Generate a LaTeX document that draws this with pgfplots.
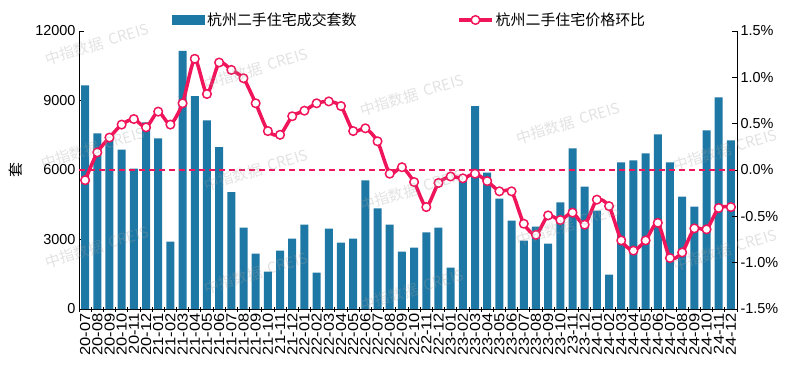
\documentclass[border=0pt]{standalone}
\usepackage{fontspec}
\setmainfont{Liberation Sans}
\newfontfamily\cjk{Noto Sans CJK SC}
\newfontfamily\xlab{Liberation Sans}[FakeStretch=1.14]
\usepackage{pgfplots}
\pgfplotsset{compat=1.18}
\usepackage{pgfplotstable}
\definecolor{barblue}{HTML}{1E78A5}
\definecolor{linepink}{HTML}{F0145A}
\definecolor{wm}{HTML}{A0A0A0}

\pgfplotstableread{
idx bar pct
0 9650 -0.11
1 7580 0.19
2 7510 0.35
3 6880 0.49
4 6060 0.55
5 8060 0.46
6 7370 0.63
7 2910 0.49
8 11140 0.72
9 9190 1.20
10 8140 0.82
11 6990 1.16
12 5040 1.08
13 3510 0.99
14 2390 0.72
15 1610 0.42
16 2520 0.38
17 3040 0.58
18 3640 0.64
19 1570 0.72
20 3470 0.74
21 2860 0.69
22 3040 0.42
23 5550 0.45
24 4345 0.31
25 3640 -0.04
26 2475 0.03
27 2650 -0.13
28 3310 -0.40
29 3510 -0.14
30 1785 -0.07
31 5570 -0.09
32 8760 -0.04
33 5885 -0.12
34 4760 -0.23
35 3810 -0.23
36 2950 -0.58
37 3555 -0.70
38 2820 -0.49
39 4600 -0.54
40 6935 -0.46
41 5280 -0.59
42 4245 -0.32
43 1480 -0.39
44 6330 -0.76
45 6415 -0.87
46 6720 -0.76
47 7540 -0.57
48 6330 -0.95
49 4850 -0.89
50 4415 -0.63
51 7710 -0.64
52 9140 -0.41
53 7280 -0.40
}\datatable

\pgfplotsset{
  myfont/.style={font=\fontsize{14.5}{17}\selectfont},
}

\begin{document}
\begin{tikzpicture}
\useasboundingbox (-79bp,-60bp) rectangle (721bp,309bp);
\begin{axis}[
  scale only axis, width=658bp, height=278bp,
  at={(0,0)}, anchor=south west,
  xmin=-0.5, xmax=53.5, ymin=0, ymax=12000,
  axis x line*=bottom, axis y line*=left,
  axis line style={black, line width=0.8bp, -},
  ytick={0,3000,6000,9000,12000},
  scaled y ticks=false,
  /pgf/number format/assume math mode=true,
  /pgf/number format/1000 sep={},
  yticklabel style={myfont, black},
  ytick align=inside,
  major tick length=5bp,
  minor tick length=5bp,
  ytick style={black, line width=0.8bp},
  xtick={0,...,53},
  xticklabels={20-07,20-08,20-09,20-10,20-11,20-12,
    21-01,21-02,21-03,21-04,21-05,21-06,21-07,21-08,21-09,21-10,21-11,21-12,
    22-01,22-02,22-03,22-04,22-05,22-06,22-07,22-08,22-09,22-10,22-11,22-12,
    23-01,23-02,23-03,23-04,23-05,23-06,23-07,23-08,23-09,23-10,23-11,23-12,
    24-01,24-02,24-03,24-04,24-05,24-06,24-07,24-08,24-09,24-10,24-11,24-12},
  xticklabel style={rotate=90, anchor=east, font=\xlab\fontsize{14.5}{17}\selectfont, black, inner xsep=1.5bp, inner ysep=0.3bp, text depth=0pt},
  major x tick style={draw=none},
  minor xtick={-0.5,0.5,...,53.5},
  minor x tick style={draw=black, line width=0.8bp},
  xtick align=center,
  ylabel={\cjk 套},
  ylabel style={at={(axis description cs:-0.0957,0.5)}, anchor=center, font=\fontsize{15}{18}\selectfont},
  legend style={at={(0.1413,1.0396)}, anchor=west, draw=none, fill=none,
    font=\cjk\fontsize{15}{18}\selectfont, inner sep=0pt},
  legend image code/.code={\fill[barblue] (0bp,-5bp) rectangle (33bp,5bp);},
  clip=false,
]
\addplot[ybar, bar width=8bp, fill=barblue, draw=none] table[x=idx,y=bar]{\datatable};
\addlegendentry{杭州二手住宅成交套数}
\end{axis}
\begin{axis}[
  scale only axis, width=658bp, height=278bp,
  at={(0,0)}, anchor=south west,
  xmin=-0.5, xmax=53.5, ymin=-1.5, ymax=1.5,
  axis x line=none, xtick=\empty,
  axis y line*=right,
  axis line style={black, line width=0.8bp, -},
  ytick={-1.5,-1,-0.5,0,0.5,1,1.5},
  /pgf/number format/assume math mode=true,
  yticklabel={\pgfmathprintnumber[fixed,fixed zerofill,precision=1]{\tick}\%},
  yticklabel style={myfont, black},
  ytick align=inside,
  major tick length=5bp,
  ytick style={black, line width=0.8bp},
  legend style={at={(0.5745,1.0396)}, anchor=west, draw=none, fill=none,
    font=\cjk\fontsize{15}{18}\selectfont, inner sep=0pt},
  legend image code/.code={\draw[linepink, line width=3.5bp] (0bp,0bp) -- (33bp,0bp);
    \draw[linepink, line width=1.5bp, fill=white] (16.5bp,0bp) circle (4.3bp);},
  clip=false,
]
\addplot[draw=linepink, line width=1.2bp, dash pattern=on 6bp off 4bp, forget plot] coordinates {(-0.5,0) (53.5,0)};
\addplot[linepink, line width=3.5bp, smooth, tension=0.4, line join=round,
  mark=*, mark size=4.3bp, mark options={fill=white, draw=linepink, line width=1.5bp, solid}]
  table[x=idx,y=pct]{\datatable};
\addlegendentry{杭州二手住宅价格环比}
\end{axis}
\begin{scope}[every node/.style={text=wm, opacity=0.3, rotate=17, font=\cjk\fontsize{15}{18}\selectfont}]
\foreach \px/\py in {97/44,256/69,412/95,93/148,256/170,412/190,568/123,725/150,97/247,256/273,412/290,568/225,725/250}{
  \node at ({(\px-79)*1bp},{(309-\py)*1bp}) {中指数据 \ CREIS};
}
\end{scope}
\end{tikzpicture}
\end{document}
